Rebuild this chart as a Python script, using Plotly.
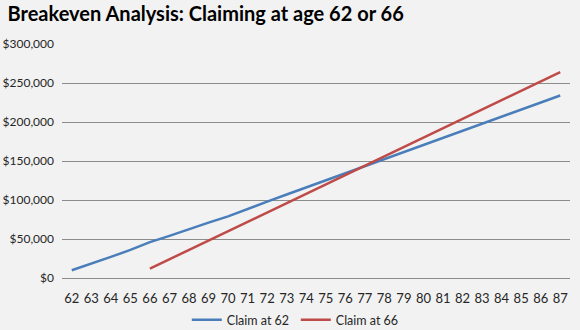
import plotly.graph_objects as go

# Cumulative benefits received by age (US dollars)
ages_62 = list(range(62, 88))
claim_62 = [10000, 18000, 27000, 36000, 46000, 54000, 63000, 71000, 79000, 89000,
            98000, 107000, 116000, 125000, 135000, 144000, 153000, 162000, 171000,
            180000, 189000, 198000, 207000, 216000, 225000, 234000]

ages_66 = list(range(66, 88))
claim_66 = [12000, 24000, 36000, 48000, 60000, 72000, 84000, 96000, 109000, 121000,
            132000, 144000, 156000, 168000, 180000, 192000, 204000, 216000, 228000,
            240000, 252000, 264000]

y_ticks = [0, 50000, 100000, 150000, 200000, 250000, 300000]
y_labels = ["$0", "$50,000", "$100,000", "$150,000", "$200,000", "$250,000", "$300,000"]

BG = "#f2f2f2"
GRID = "#8c8c8c"
TXT = "#262626"
FONT = "Lato, Open Sans, sans-serif"

fig = go.Figure()
fig.add_trace(go.Scatter(x=ages_62, y=claim_62, mode="lines", name="Claim at 62",
                         line=dict(color="#4a7ebb", width=2.5)))
fig.add_trace(go.Scatter(x=ages_66, y=claim_66, mode="lines", name="Claim at 66",
                         line=dict(color="#be4b48", width=2.5)))

fig.update_layout(
    width=580, height=330,
    paper_bgcolor=BG, plot_bgcolor=BG,
    margin=dict(l=62, r=10, t=44, b=52, autoexpand=False),
    font=dict(family=FONT, size=13, color=TXT),
    title=dict(text="<b>Breakeven Analysis: Claiming at age 62 or 66</b>",
               x=0.013, xanchor="left", y=0.957, yanchor="middle",
               font=dict(family=FONT, size=20, color="#000000")),
    showlegend=True,
    legend=dict(orientation="h", x=0.51, xanchor="center", xref="container",
                y=0.03, yanchor="middle", yref="container",
                entrywidth=64, entrywidthmode="pixels",
                font=dict(size=12.5, color=TXT), bgcolor="rgba(0,0,0,0)"),
    xaxis=dict(range=[61.5, 87.5], tickmode="array", tickvals=ages_62,
               ticktext=[str(a) for a in ages_62], showgrid=False, zeroline=False,
               showline=True, linecolor=GRID, linewidth=1, mirror=False,
               ticks="", ticklabelstandoff=8, automargin=False,
               tickfont=dict(size=13, color=TXT)),
    yaxis=dict(range=[0, 300000], tickmode="array", tickvals=y_ticks, ticktext=y_labels,
               showgrid=True, gridcolor=GRID, gridwidth=1, zeroline=False,
               showline=False, ticks="", ticklabelstandoff=7, automargin=False,
               tickfont=dict(size=12, color=TXT)),
)

fig.write_html("out.html")
